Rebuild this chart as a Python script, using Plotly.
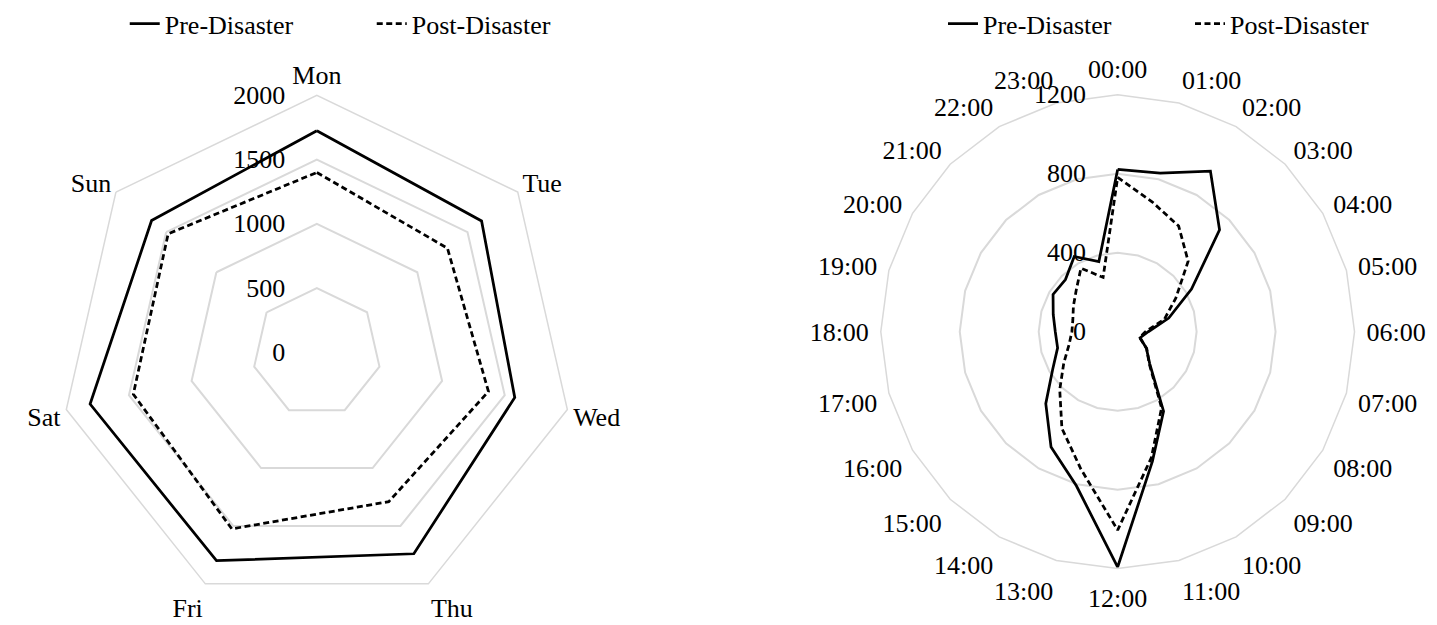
import plotly.graph_objects as go

# ---------------- data ----------------
days = ["Mon", "Tue", "Wed", "Thu", "Fri", "Sat", "Sun"]
day_pre = [1725, 1640, 1580, 1740, 1800, 1810, 1645]
day_post = [1400, 1300, 1370, 1290, 1525, 1465, 1480]

hours = ["00:00", "01:00", "02:00", "03:00", "04:00", "05:00", "06:00", "07:00",
         "08:00", "09:00", "10:00", "11:00", "12:00", "13:00", "14:00", "15:00",
         "16:00", "17:00", "18:00", "19:00", "20:00", "21:00", "22:00", "23:00"]
hour_pre = [822, 832, 940, 730, 432, 268, 155, 118, 168, 230, 465, 680,
            1192, 808, 675, 515, 380, 315, 316, 338, 378, 374, 440, 368]
hour_post = [782, 680, 618, 505, 340, 245, 140, 115, 170, 225, 445, 660,
             1005, 720, 565, 415, 315, 255, 232, 235, 259, 297, 372, 285]

day_ticks = [0, 500, 1000, 1500, 2000]
hour_ticks = [0, 400, 800, 1200]


def closed(seq):
    return list(seq) + [seq[0]]


FONT = "Liberation Serif, Times New Roman, serif"
GRID = "#d9d9d9"
LW = 2.75
DASH = "6px,3.5px"

fig = go.Figure()

fig.add_trace(go.Scatterpolar(r=closed(day_pre), theta=closed(days), mode="lines",
                              name="Pre-Disaster", line=dict(color="black", width=LW),
                              subplot="polar", legend="legend"))
fig.add_trace(go.Scatterpolar(r=closed(day_post), theta=closed(days), mode="lines",
                              name="Post-Disaster", line=dict(color="black", width=LW, dash=DASH),
                              subplot="polar", legend="legend"))
fig.add_trace(go.Scatterpolar(r=closed(hour_pre), theta=closed(hours), mode="lines",
                              name="Pre-Disaster", line=dict(color="black", width=LW),
                              subplot="polar2", legend="legend2"))
fig.add_trace(go.Scatterpolar(r=closed(hour_post), theta=closed(hours), mode="lines",
                              name="Post-Disaster", line=dict(color="black", width=LW, dash=DASH),
                              subplot="polar2", legend="legend2"))


def polar_cfg(dom_x, dom_y, cats, rng, ticks, ang_pad):
    return dict(
        domain=dict(x=dom_x, y=dom_y),
        bgcolor="white",
        gridshape="linear",
        angularaxis=dict(type="category", categoryarray=cats, direction="clockwise",
                         rotation=90, showgrid=False, showline=True, linecolor=GRID,
                         linewidth=1.5,
                         ticks="outside" if ang_pad else "", ticklen=max(ang_pad, 1),
                         tickcolor="rgba(0,0,0,0)",
                         tickfont=dict(family=FONT, size=26, color="black")),
        radialaxis=dict(range=rng, tickvals=ticks, angle=90, tickangle=90,
                        side="counterclockwise", showline=False,
                        ticks="outside", ticklen=22, tickcolor="rgba(0,0,0,0)",
                        gridcolor=GRID, gridwidth=1.5,
                        tickfont=dict(family=FONT, size=26, color="black")),
    )


W, H = 1437, 625
L_CX, L_CY, L_R = 317.5, 347.0, 262.0
R_CX, R_CY, R_R = 1120.0, 326.0, 241.5

legend_common = dict(orientation="h", xanchor="left", yanchor="middle", y=1 - 12 / H,
                     entrywidth=202, entrywidthmode="pixels",
                     font=dict(family=FONT, size=26, color="black"),
                     bgcolor="rgba(0,0,0,0)")

fig.update_layout(
    width=W, height=H,
    margin=dict(l=0, r=0, t=0, b=0),
    paper_bgcolor="white",
    font=dict(family=FONT, size=26, color="black"),
    polar=polar_cfg([(L_CX - L_R) / W, (L_CX + L_R) / W],
                    [(H - L_CY - L_R) / H, (H - L_CY + L_R) / H],
                    days, [0, 2000], day_ticks, 0),
    polar2=polar_cfg([(R_CX - R_R) / W, (R_CX + R_R) / W],
                     [(H - R_CY - R_R) / H, (H - R_CY + R_R) / H],
                     hours, [0, 1200], hour_ticks, 6),
    legend=dict(x=125 / W, **legend_common),
    legend2=dict(x=945 / W, **legend_common),
)

fig.write_html("out.html", config={"displayModeBar": False},
               post_script="document.body.style.margin='0';")
